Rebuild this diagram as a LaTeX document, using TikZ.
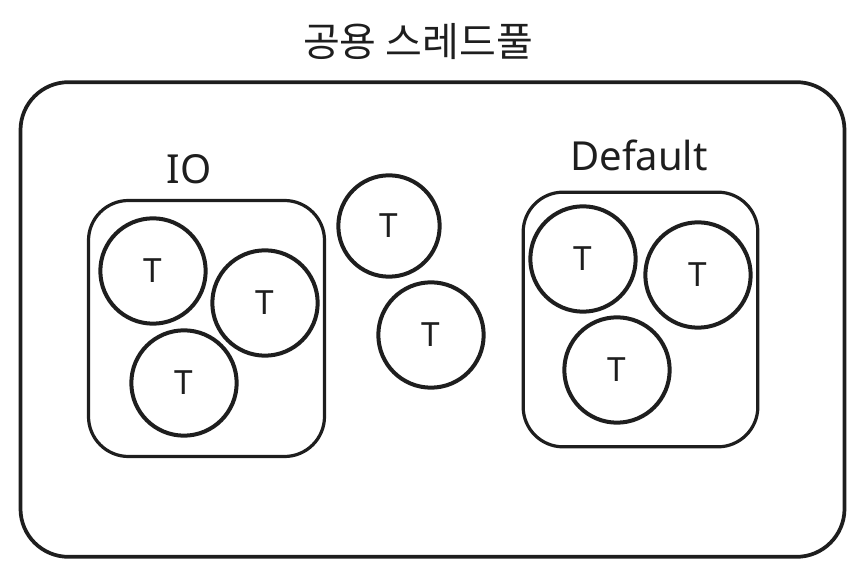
\documentclass[tikz,border=0pt]{standalone}
\usepackage{fontspec}
\usepackage{tikz}
\usetikzlibrary{positioning}
\newfontfamily\krfont{Noto Sans CJK KR}
\setmainfont{Noto Sans}
\definecolor{InkColor}{RGB}{30,30,30}
\tikzset{
  poolbox/.style={draw=InkColor, line width=2.8pt, rounded corners=36pt, inner sep=0pt},
  groupbox/.style={draw=InkColor, line width=2.4pt, rounded corners=30pt, inner sep=0pt},
  thread/.style={circle, draw=InkColor, line width=3pt, inner sep=0pt, minimum size=79pt,
    text=InkColor, font=\fontsize{25}{27}\selectfont},
  grouplabel/.style={text=InkColor, font=\fontsize{30}{33}\selectfont},
}
\begin{document}
\begin{tikzpicture}[x=0.75pt, y=-0.75pt]
      \useasboundingbox (0,0) rectangle (865,577);

      \node[text=InkColor, font=\krfont\fontsize{30}{33}\selectfont] (title) at (418,42) {공용 스레드풀};

      \node[poolbox, minimum width=618pt, minimum height=356pt] (pool) at (432.5,319.5) {};

      \node[groupbox, minimum width=177pt, minimum height=192pt] (io) at (206.5,328.5) {};
      \node[groupbox, minimum width=176pt, minimum height=191pt] (default) at (640.5,319.5) {};

      \node[grouplabel] (iolabel) at (189,169) {IO};
      \node[grouplabel] (defaultlabel) at (639,155) {Default};

      \node[thread] (io1) at (153,271) {T};
      \node[thread] (io2) at (265,303) {T};
      \node[thread] (io3) at (184,383) {T};

      \node[thread, minimum size=76pt] (free1) at (389,226) {T};
      \node[thread] (free2) at (431,335) {T};

      \node[thread] (df1) at (583,259) {T};
      \node[thread] (df2) at (698,275) {T};
      \node[thread] (df3) at (617,370) {T};
    \end{tikzpicture}
\end{document}
